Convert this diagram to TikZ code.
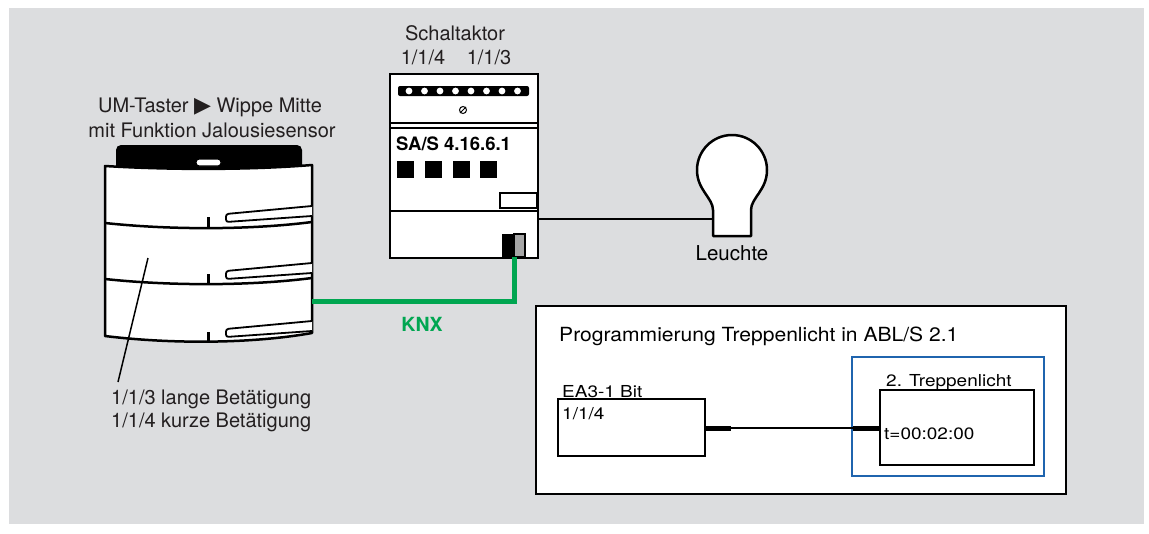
\documentclass[tikz,border=0pt]{standalone}
\usepackage{fontspec}
\setmainfont{TeX Gyre Heros}
\newfontfamily\wideface[FakeStretch=1.15]{TeX Gyre Heros}
\newfontfamily\titleface[FakeStretch=1.08]{TeX Gyre Heros}
\newfontfamily\symfont{DejaVu Sans}
\begin{document}
\definecolor{panelgray}{RGB}{220,221,223}
\definecolor{knxgreen}{RGB}{0,166,81}
\definecolor{frameblue}{RGB}{31,100,174}
\definecolor{ink}{RGB}{35,31,32}
\begin{tikzpicture}[x=1pt,y=-1pt,
  label/.style={font=\fontsize{20}{24}\selectfont, text=ink, inner sep=0pt},
  progtext/.style={font=\wideface\fontsize{16.5}{20}\selectfont, text=black, inner sep=0pt, anchor=base west},
  boxed/.style={draw=black, line width=2pt, fill=white, inner sep=0pt, outer sep=0pt, anchor=north west},
  outline/.style={draw=black, line width=2.5pt, line join=round},
  wire/.style={draw=black, line width=2pt},
  stub/.style={draw=black, line width=5pt}]
\useasboundingbox (0,0) rectangle (1149,533);
\fill[panelgray] (9,8) rectangle (1144,524);

% ---------- push-button sensor ----------
\fill[black, rounded corners=5pt] (116,145) rectangle (302,180);
\path[outline, fill=white] (105,166) .. controls (170,170) and (250,170) .. (312,165)
  -- (312,333) .. controls (250,344) and (170,344) .. (105,336) -- cycle;
\draw[line width=1.2pt, fill=white, rounded corners=3pt] (196,159) rectangle (221,166);
\draw[outline] (105,223) .. controls (170,230) and (250,230) .. (312,222);
\draw[outline] (105,279) .. controls (170,286) and (250,286) .. (312,278);
\foreach \ty in {217,274,332}
  \draw[line width=3pt] (208,\ty) -- (208,\ty+10);
\foreach \sy in {214,271,329}
  \draw[line width=1.8pt, fill=white, rounded corners=2.5pt]
    (312,\sy-8) -- (226,\sy) -- (226,\sy+8) -- (312,\sy+2);
\coordinate (swR) at (312,301);
\coordinate (lead) at (148,258);
\node[label, anchor=base] (swtitleA) at (210,112) {UM-Taster {\symfont\fontsize{22}{22}\selectfont ▶} Wippe Mitte};
\node[label, anchor=base] (swtitleB) at (212,137) {mit Funktion Jalousiesensor};
\node[label, anchor=base west] (swtextA) at (111,404) {1/1/3 lange Betätigung};
\node[label, anchor=base west] (swtextB) at (111,427) {1/1/4 kurze Betätigung};
\draw[line width=1.5pt] (lead) -- (118,382);

% ---------- switch actuator ----------
\node[boxed, line width=2.5pt, minimum width=148pt, minimum height=184pt] (act) at (390,74) {};
\draw[line width=2.5pt] (390,123) -- (538,123);
\draw[line width=2.5pt] (390,128) -- (538,128);
\draw[line width=2.5pt] (390,211) -- (538,211);
\fill[black, rounded corners=2pt] (398,86) rectangle (529,96);
\foreach \cx in {409,424.5,440,455.5,471,486.5,502,517.5}
  \fill[white] (\cx,91) circle (3.4pt);
\draw[line width=1pt] (463,110) circle (3.5pt);
\draw[line width=1pt] (460,113) -- (466,107);
\node[font=\bfseries\fontsize{18.5}{22}\selectfont, anchor=base west, inner sep=0pt] (actname) at (396,150) {SA/S 4.16.6.1};
\foreach \qx in {397,425,453,480}
  \fill[black] (\qx,161) rectangle (\qx+17,178);
\draw[line width=2pt, fill=white] (500,193) rectangle (537,208);
\fill[black] (502,234) rectangle (514,258);
\draw[line width=1.5pt, fill=black!35] (514,234) rectangle (525,257);
\coordinate (bus) at (514,257);
\coordinate (actR) at (538,219);
\node[label, anchor=base] (acttitle) at (455,40) {Schaltaktor};
\node[label, anchor=base] (ga4) at (423,64) {1/1/4};
\node[label, anchor=base] (ga3) at (489,64) {1/1/3};

% ---------- KNX bus ----------
\draw[knxgreen, line width=5pt] (bus) |- (swR);
\node[font=\bfseries\fontsize{19.5}{22}\selectfont, text=knxgreen, inner sep=0pt, anchor=base] (knx) at (422,331) {KNX};

% ---------- lamp ----------
\path[outline, fill=white] (713,236) -- (713,210) .. controls (713,198) and (697,190) .. (697,170)
  .. controls (697,150.7) and (712.7,135) .. (732,135)
  .. controls (751.3,135) and (767,150.7) .. (767,170)
  .. controls (767,190) and (751,198) .. (751,210) -- (751,236) -- cycle;
\coordinate (lampL) at (713,219);
\draw[wire] (actR) -- (lampL);
\node[font=\fontsize{20.5}{24}\selectfont, inner sep=0pt, anchor=base] (lamp) at (732,260) {Leuchte};

% ---------- ABL/S programming ----------
\node[boxed, minimum width=530pt, minimum height=188pt] (prog) at (536,306) {};
\node[progtext, font=\titleface\fontsize{19.5}{22}\selectfont] (progtitle) at (559,341) {Programmierung Treppenlicht in ABL/S 2.1};
\node[boxed, minimum width=147pt, minimum height=57pt] (ea) at (558,399) {};
\node[progtext] (eaname) at (562,397) {EA3-1 Bit};
\node[progtext] (eaga) at (562,419) {1/1/4};
\node[draw=frameblue, line width=2pt, inner sep=0pt, outer sep=0pt, anchor=north west,
  minimum width=192pt, minimum height=119pt] (blue) at (852,357) {};
\node[boxed, minimum width=154pt, minimum height=75pt] (tl) at (880,390) {};
\node[progtext] (tlname) at (886,386) {2. Treppenlicht};
\node[progtext] (tltime) at (884,439) {t=00:02:00};
\coordinate (eaOut) at (731,428);
\coordinate (tlIn) at (853,428);
\draw[stub] (ea.east |- eaOut) -- (eaOut);
\draw[wire] (eaOut) -- (tlIn);
\draw[stub] (tlIn) -- (tl.west |- tlIn);
\end{tikzpicture}
\end{document}
